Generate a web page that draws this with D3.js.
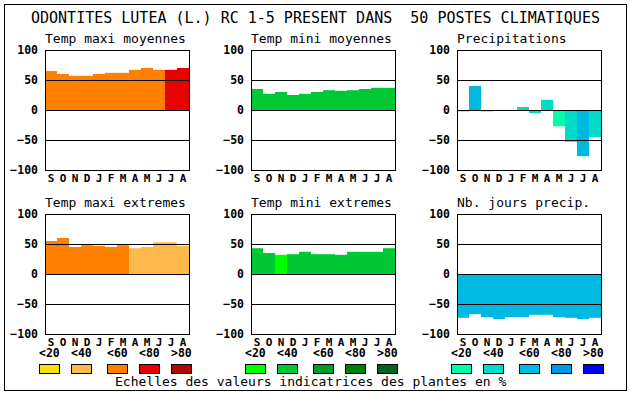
<!DOCTYPE html>
<html>
<head>
<meta charset="utf-8">
<script src="https://cdn.jsdelivr.net/npm/d3@7"></script>
<style>
  html, body { margin: 0; padding: 0; background: #fff; }
  svg { display: block; }
  text { font-family: "DejaVu Sans Mono", "Liberation Mono", monospace; fill: #000; }
</style>
</head>
<body>
<div id="chart"></div>
<script>
// months of the climatic year, September to August
const months = ['S', 'O', 'N', 'D', 'J', 'F', 'M', 'A', 'M', 'J', 'J', 'A'];
const yTicks = [100, 50, 0, -50, -100];
const legendLabels = ['<20', '<40', '<60', '<80', '>80'];

const tempPalette = ['#f8e014', '#ffb84c', '#ff8000', '#e80000', '#ac0c00'];
const frostPalette = ['#00ff00', '#00c834', '#009c2a', '#008000', '#006420'];
const rainPalette = ['#00ffa8', '#00dccc', '#00b9e0', '#0098e8', '#0000ff'];

// values per month, and which class of the palette each bar takes
const maxiMoyValues = [65, 60, 57, 57, 60, 62, 62, 67, 70, 67, 67, 70];
const maxiMoyClass = [2, 2, 2, 2, 2, 2, 2, 2, 2, 2, 3, 3];

const miniMoyValues = [35, 27, 30, 25, 27, 30, 33, 32, 33, 35, 37, 37];
const miniMoyClass = [1, 1, 1, 1, 1, 1, 1, 1, 1, 1, 1, 1];

const precipValues = [-2.5, 40, -2.5, 0, 0, 5, -5, 17, -27, -53, -77, -45];
const precipClass = [0, 2, 0, 1, 1, 1, 1, 1, 0, 1, 2, 1];

const maxiExtValues = [55, 60, 45, 48, 47, 45, 48, 43, 45, 53, 53, 47];
const maxiExtClass = [2, 2, 2, 2, 2, 2, 2, 1, 1, 1, 1, 1];

const miniExtValues = [43, 35, 32, 33, 37, 33, 33, 32, 37, 37, 37, 43];
const miniExtClass = [1, 1, 0, 1, 1, 1, 1, 1, 1, 1, 1, 1];

const joursValues = [-73, -67, -72, -75, -72, -72, -68, -68, -72, -73, -75, -73];
const joursClass = [2, 2, 2, 2, 2, 2, 2, 2, 2, 2, 2, 2];

const width = 630;
const height = 394;
const colX = [45, 251, 457];
const rowY = [50, 214];
const plotW = 144;
const plotH = 120;

const panels = [
  { title: 'Temp maxi moyennes', col: 0, row: 0, values: maxiMoyValues, cls: maxiMoyClass, palette: tempPalette },
  { title: 'Temp mini moyennes', col: 1, row: 0, values: miniMoyValues, cls: miniMoyClass, palette: frostPalette },
  { title: 'Precipitations', col: 2, row: 0, values: precipValues, cls: precipClass, palette: rainPalette },
  { title: 'Temp maxi extremes', col: 0, row: 1, values: maxiExtValues, cls: maxiExtClass, palette: tempPalette },
  { title: 'Temp mini extremes', col: 1, row: 1, values: miniExtValues, cls: miniExtClass, palette: frostPalette },
  { title: 'Nb. jours precip.', col: 2, row: 1, values: joursValues, cls: joursClass, palette: rainPalette }
];

const svg = d3.select('#chart').append('svg')
  .attr('width', width)
  .attr('height', height);

svg.append('rect')
  .attr('x', 4.5).attr('y', 4.5)
  .attr('width', 622).attr('height', 386)
  .attr('fill', 'none')
  .attr('stroke', '#000');

svg.append('text')
  .attr('x', 31).attr('y', 23)
  .style('font-size', '15px')
  .style('white-space', 'pre')
  .attr('xml:space', 'preserve')
  .text('ODONTITES LUTEA (L.) RC 1-5 PRESENT DANS  50 POSTES CLIMATIQUES');

panels.forEach(p => {
  const x0 = colX[p.col];
  const y0 = rowY[p.row];

  const x = d3.scaleBand()
    .domain(d3.range(months.length))
    .range([x0, x0 + plotW]);

  const y = d3.scaleLinear()
    .domain([-100, 100])
    .range([y0 + plotH, y0]);

  const g = svg.append('g');

  g.append('text')
    .attr('x', x0).attr('y', y0 - 7)
    .style('font-size', '13px')
    .text(p.title);

  g.selectAll('.bar')
    .data(p.values)
    .enter()
    .append('rect')
    .attr('class', 'bar')
    .attr('x', (d, i) => x(i))
    .attr('width', x.bandwidth())
    .attr('y', d => Math.min(y(d), y(0)))
    .attr('height', d => Math.abs(y(d) - y(0)))
    .attr('fill', (d, i) => p.palette[p.cls[i]]);

  // horizontal reference lines drawn over the bars
  g.selectAll('.grid')
    .data([50, 0, -50])
    .enter()
    .append('line')
    .attr('x1', x0).attr('x2', x0 + plotW)
    .attr('y1', d => Math.round(y(d)) + 0.5)
    .attr('y2', d => Math.round(y(d)) + 0.5)
    .attr('stroke', '#000');

  g.append('rect')
    .attr('x', x0 + 0.5).attr('y', y0 + 0.5)
    .attr('width', plotW).attr('height', plotH)
    .attr('fill', 'none')
    .attr('stroke', '#000');

  const yAxis = g.append('g')
    .attr('transform', `translate(${x0},0)`)
    .call(d3.axisLeft(y).tickValues(yTicks).tickSize(0).tickPadding(7));
  yAxis.select('.domain').remove();
  yAxis.selectAll('text')
    .style('font-family', '"DejaVu Sans Mono", monospace')
    .style('font-size', '11.5px')
    .style('font-weight', 'bold')
    .attr('fill', '#000');

  const xAxis = g.append('g')
    .attr('transform', `translate(0,${y0 + plotH})`)
    .call(d3.axisBottom(x).tickFormat(i => months[i]).tickSize(0).tickPadding(4));
  xAxis.select('.domain').remove();
  xAxis.selectAll('text')
    .style('font-family', '"DejaVu Sans Mono", monospace')
    .style('font-size', '11px')
    .style('font-weight', 'bold')
    .attr('fill', '#000');
});

// legend: one scale of classes under each column
const legendOffsets = [0, 32, 68, 100, 132];
const legendPalettes = [tempPalette, frostPalette, rainPalette];

legendPalettes.forEach((pal, c) => {
  const lx = colX[c] - 6;
  const lg = svg.append('g');

  lg.selectAll('text')
    .data(legendLabels)
    .enter()
    .append('text')
    .attr('x', (d, i) => lx + legendOffsets[i])
    .attr('y', 357)
    .style('font-size', '11.5px')
    .style('font-weight', 'bold')
    .text(d => d);

  lg.selectAll('rect')
    .data(pal)
    .enter()
    .append('rect')
    .attr('x', (d, i) => lx + legendOffsets[i] + 0.5)
    .attr('y', 364.5)
    .attr('width', 20)
    .attr('height', 9)
    .attr('fill', d => d)
    .attr('stroke', '#000');
});

svg.append('text')
  .attr('x', 115).attr('y', 386)
  .style('font-size', '13px')
  .text('Echelles des valeurs indicatrices des plantes en %');
</script>
</body>
</html>
